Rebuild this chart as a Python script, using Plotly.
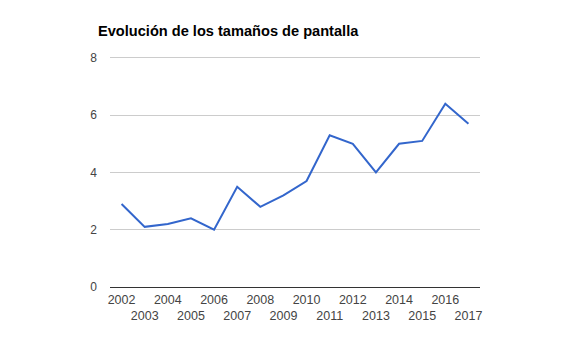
import plotly.graph_objects as go

years = ["2002", "2003", "2004", "2005", "2006", "2007", "2008", "2009",
         "2010", "2011", "2012", "2013", "2014", "2015", "2016", "2017"]
sizes = [2.9, 2.1, 2.2, 2.4, 2.0, 3.5, 2.8, 3.2, 3.7, 5.3, 5.0, 4.0, 5.0, 5.1, 6.4, 5.7]
y_ticks = [0, 2, 4, 6, 8]
title = "Evolución de los tamaños de pantalla"

# staggered labels: odd positions on a second row
tick_text = [y if i % 2 == 0 else "<br>" + y for i, y in enumerate(years)]

fig = go.Figure()
fig.add_trace(go.Scatter(
    x=years, y=sizes, mode="lines",
    line=dict(color="#3366cc", width=2),
    hoverinfo="x+y",
))

font = "Arial, Liberation Sans, sans-serif"
fig.update_layout(
    width=583, height=353,
    margin=dict(l=110, r=103, t=55, b=66),
    paper_bgcolor="white", plot_bgcolor="white",
    showlegend=False,
    font=dict(family=font, size=12, color="#444"),
    title=dict(text="<b>" + title + "</b>", x=98 / 583, xref="container", xanchor="left",
               y=1 - 31 / 353, yref="container", yanchor="middle",
               font=dict(family=font, size=14.6, color="#000")),
    xaxis=dict(type="category", range=[-0.5, 15.5], tickvals=years, ticktext=tick_text,
               showgrid=False, zeroline=False, showline=False, ticks="",
               ticklabelstandoff=3,
               tickangle=0, tickfont=dict(size=12.5, color="#444")),
    yaxis=dict(range=[0, 8.1], tickvals=y_ticks, showgrid=True, gridcolor="#cccccc",
               zeroline=True, zerolinecolor="#333333", zerolinewidth=1,
               showline=False, ticks="", ticklabelstandoff=12,
               tickfont=dict(size=12, color="#444")),
)

fig.write_html("out.html")
